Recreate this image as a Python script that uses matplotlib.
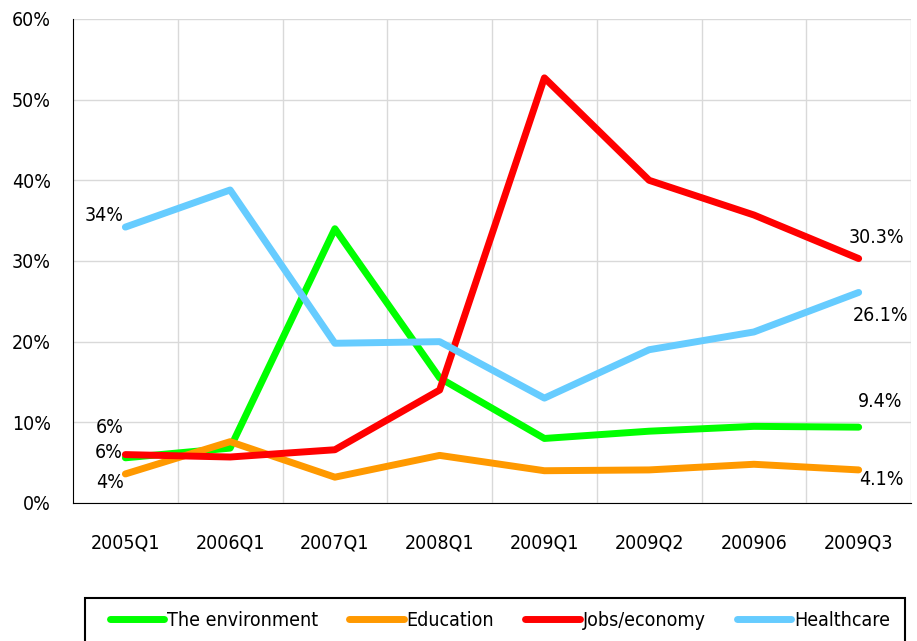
import matplotlib
matplotlib.use("Agg")
import matplotlib.pyplot as plt
from matplotlib.patches import Rectangle

plt.rcParams['font.family'] = ['DejaVu Sans']
plt.rcParams['font.stretch'] = 'condensed'

quarters = ["2005Q1", "2006Q1", "2007Q1", "2008Q1", "2009Q1", "2009Q2", "200906", "2009Q3"]
environment = [5.6, 6.8, 34.0, 15.5, 8.0, 8.9, 9.5, 9.4]
education = [3.6, 7.6, 3.2, 5.9, 4.0, 4.1, 4.8, 4.1]
jobs = [6.0, 5.7, 6.6, 14.0, 52.7, 40.0, 35.7, 30.3]
healthcare = [34.2, 38.8, 19.8, 20.0, 13.0, 19.0, 21.2, 26.1]

fig = plt.figure(figsize=(9.17, 6.41), dpi=100)
ax = fig.add_axes([0.0796, 0.2153, 0.9139, 0.7551])

x = list(range(len(quarters)))
lw = 5
ax.plot(x, environment, color="#00ff00", lw=lw, solid_capstyle="round", label="The environment")
ax.plot(x, education, color="#ff9900", lw=lw, solid_capstyle="round", label="Education")
ax.plot(x, jobs, color="#ff0000", lw=lw, solid_capstyle="round", label="Jobs/economy")
ax.plot(x, healthcare, color="#66ccff", lw=lw, solid_capstyle="round", label="Healthcare")

# first-point labels (integer) and last-point labels (one decimal)
fs = 14
ax.annotate(f"{healthcare[0]:.0f}%", (0, healthcare[0]), xytext=(-2, 12), textcoords="offset pixels",
            ha="right", va="center", fontsize=fs)
ax.annotate(f"{environment[0]:.0f}%", (0, environment[0]), xytext=(-2, 30), textcoords="offset pixels",
            ha="right", va="center", fontsize=fs)
ax.annotate(f"{jobs[0]:.0f}%", (0, jobs[0]), xytext=(-3, 2), textcoords="offset pixels",
            ha="right", va="center", fontsize=fs)
ax.annotate(f"{education[0]:.0f}%", (0, education[0]), xytext=(-1, -9), textcoords="offset pixels",
            ha="right", va="center", fontsize=fs)

n = len(quarters) - 1
ax.annotate(f"{jobs[n]:.1f}%", (n, jobs[n]), xytext=(18, 21), textcoords="offset pixels",
            ha="center", va="center", fontsize=fs)
ax.annotate(f"{healthcare[n]:.1f}%", (n, healthcare[n]), xytext=(22, -23), textcoords="offset pixels",
            ha="center", va="center", fontsize=fs)
ax.annotate(f"{environment[n]:.1f}%", (n, environment[n]), xytext=(21, 26), textcoords="offset pixels",
            ha="center", va="center", fontsize=fs)
ax.annotate(f"{education[n]:.1f}%", (n, education[n]), xytext=(23, -10), textcoords="offset pixels",
            ha="center", va="center", fontsize=fs)

ax.set_xlim(-0.5, len(quarters) - 0.5)
ax.set_ylim(0, 60)
ax.set_xticks(x)
ax.set_xticklabels(quarters, fontsize=fs)
ax.set_xticks([i + 0.5 for i in x], minor=True)
ax.set_yticks(range(0, 61, 10))
ax.set_yticklabels([f"{v}%" for v in range(0, 61, 10)], fontsize=fs)
ax.tick_params(axis="x", which="both", length=0, pad=22)
ax.tick_params(axis="y", length=0, pad=16)
ax.grid(True, axis="y", color="#d9d9d9", lw=1)
ax.grid(True, axis="x", which="minor", color="#d9d9d9", lw=1)
ax.set_axisbelow(True)
ax.spines["top"].set_visible(False)
ax.spines["right"].set_visible(False)
ax.spines["left"].set_color("black")
ax.spines["bottom"].set_color("black")

# legend box runs past the bottom edge, as in the original
fig.patches.append(Rectangle((85 / 917, -0.05), 820 / 917, 0.05 + 1 - 598 / 641,
                             transform=fig.transFigure, fill=False, ec="black", lw=1.5))
fig.legend(loc="center", bbox_to_anchor=(500 / 917, 1 - 620 / 641), ncol=4, fontsize=fs,
           frameon=False, handlelength=2.8, handletextpad=0.15, columnspacing=1.6)

fig.savefig("out.png", dpi=100)
